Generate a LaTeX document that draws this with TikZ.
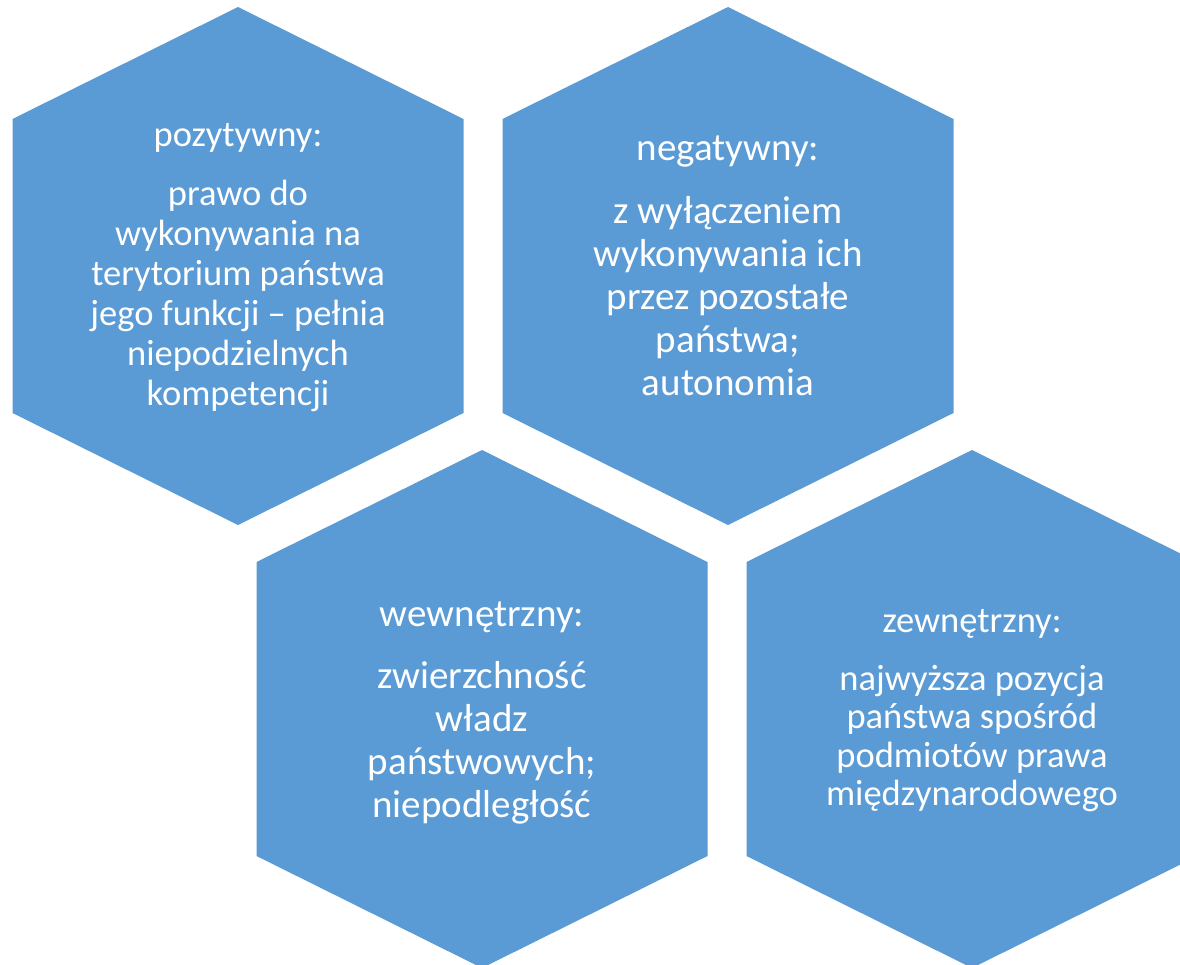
\documentclass[tikz,border=0pt]{standalone}
\usepackage{fontspec}
\setmainfont{Carlito}
\usepackage{xcolor}
\usepackage{tikz}
\usetikzlibrary{positioning}

\definecolor{hexblue}{RGB}{91,155,213}

% one hexagon round a named centre
\newcommand{\hexshape}[1]{%
  \fill[hexblue, shift={(#1)}] (0,-259) -- (225.5,-147) -- (225.5,147)
    -- (0,259) -- (-225.5,147) -- (-225.5,-147) -- cycle;}

\begin{document}
\begin{tikzpicture}[
    x=1pt, y=-1pt,
    hextext/.style={text=white, align=center, inner sep=0pt},
    small/.style={font=\fontsize{36.5}{40}\selectfont},
    large/.style={font=\fontsize{39}{43}\selectfont}
]
    \clip (0,0) rectangle (1180,964);

    \coordinate (h1) at (238,266);
    \coordinate (h2) at (728,266);
    \coordinate (h3) at (482,709);
    \coordinate (h4) at (972,709);

    \foreach \h in {h1,h2,h3,h4} {\hexshape{\h}}

    \node [hextext, small, yshift=-2pt] (pos) at (h1) {pozytywny:\\[19pt]prawo do\\wykonywania na\\terytorium państwa\\jego funkcji – pełnia\\niepodzielnych\\kompetencji};
    \node [hextext, large] (neg) at (h2) {negatywny:\\[20pt]z wyłączeniem\\wykonywania ich\\przez pozostałe\\państwa;\\autonomia};
    \node [hextext, large, yshift=-4pt] (wew) at (h3) {wewnętrzny:\\[19pt]zwierzchność\\władz\\państwowych;\\niepodległość};
    \node [hextext, font=\fontsize{36.5}{38.5}\selectfont, yshift=-2pt] (zew) at (h4) {zewnętrzny:\\[19pt]najwyższa pozycja\\państwa spośród\\podmiotów prawa\\międzynarodowego};
\end{tikzpicture}
\end{document}
